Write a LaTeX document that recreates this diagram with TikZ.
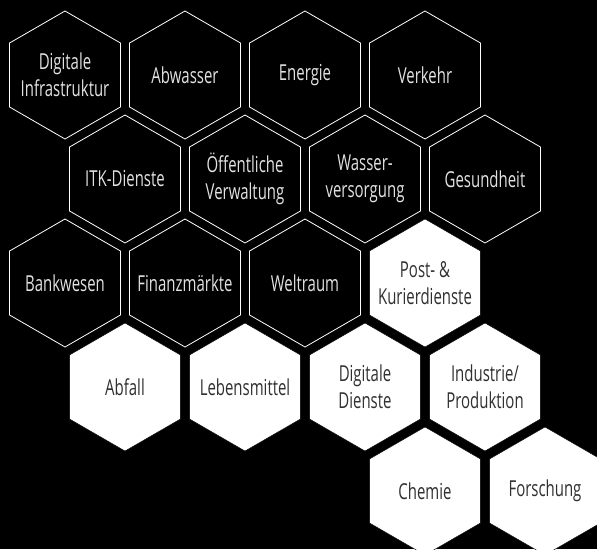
\documentclass[tikz,border=0pt]{standalone}
\usepackage{fontspec}
\setmainfont{Open Sans}[FakeStretch=0.68]
\usepackage{tikz}

\definecolor{lightgr}{HTML}{E2E2E2}
\definecolor{darkgr}{HTML}{303030}

\tikzset{
  hexdark/.style={draw=white,line width=0.8pt,fill=black},
  hexlight/.style={fill=white},
  hexdark text/.style={align=center,inner sep=0pt,text=lightgr,font=\fontsize{22}{27}\selectfont},
  hexlight text/.style={align=center,inner sep=0pt,text=darkgr,font=\fontsize{22}{27}\selectfont}
}
% hexagon cell: name, position, style, label
\newcommand{\hexcell}[4]{%
  \draw[#3] (#2) +(90:64) -- +(150:64) -- +(210:64) -- +(270:64) -- +(330:64) -- +(30:64) -- cycle;
  \node[#3 text] (#1) at (#2) {#4};}

\begin{document}
\begin{tikzpicture}[x=1pt,y=-1pt]
\fill[black] (0,0) rectangle (597,549);
\useasboundingbox (0,0) rectangle (597,549);
% row 1
\hexcell{dig}{65,75}{hexdark}{Digitale\\Infrastruktur}
\hexcell{abw}{185,75}{hexdark}{Abwasser}
\hexcell{ene}{305,75}{hexdark}{Energie}
\hexcell{ver}{425,75}{hexdark}{Verkehr}
% row 2
\hexcell{itk}{125,179}{hexdark}{ITK-Dienste}
\hexcell{oev}{245,179}{hexdark}{Öffentliche\\Verwaltung}
\hexcell{was}{365,179}{hexdark}{Wasser-\\versorgung}
\hexcell{ges}{485,179}{hexdark}{Gesundheit}
% row 3
\hexcell{bank}{65,283}{hexdark}{Bankwesen}
\hexcell{fin}{185,283}{hexdark}{Finanzmärkte}
\hexcell{welt}{305,283}{hexdark}{Weltraum}
\hexcell{post}{425,283}{hexlight}{Post- \&\\Kurierdienste}
% row 4
\hexcell{abf}{125,387}{hexlight}{Abfall}
\hexcell{leb}{245,387}{hexlight}{Lebensmittel}
\hexcell{digd}{365,387}{hexlight}{Digitale\\Dienste}
\hexcell{ind}{485,387}{hexlight}{Industrie/\\Produktion}
% row 5
\hexcell{chem}{425,491}{hexlight}{Chemie}
\hexcell{forsch}{545,491}{hexlight}{Forschung}
\end{tikzpicture}
\end{document}
